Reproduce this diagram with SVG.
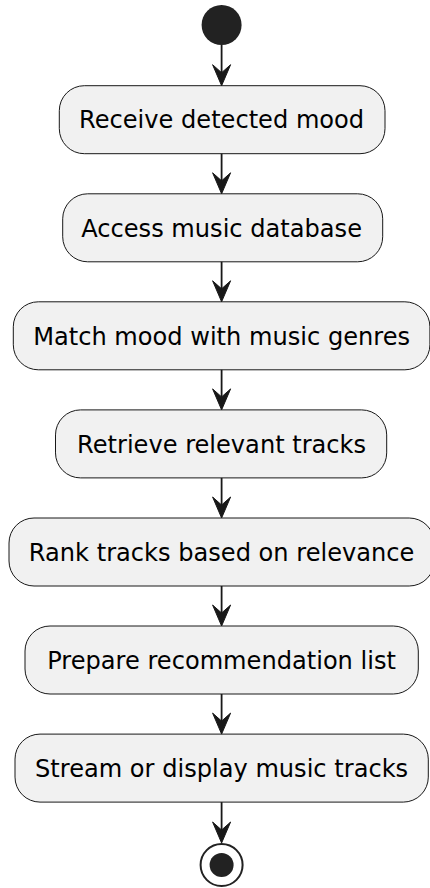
<svg xmlns="http://www.w3.org/2000/svg" width="430" height="888" viewBox="0 0 430 888">
  <style>
    .act rect { fill: #F1F1F1; stroke: #181818; stroke-width: 1; }
    .act text { font-family: "DejaVu Sans", "Liberation Sans", sans-serif; font-size: 24.1px; fill: #000000; text-anchor: middle; }
    .flow line { stroke: #181818; stroke-width: 1.8; }
    .flow polygon { fill: #181818; stroke: #181818; stroke-width: 1; }
  </style>
  <rect width="430" height="888" fill="#FFFFFF"/>

  <!-- start node -->
  <g id="start">
    <circle cx="221.6" cy="25" r="20" fill="#222222"/>
  </g>

  <!-- activities -->
  <g id="receive-mood" class="act">
    <rect x="59.3" y="85.7" width="325.7" height="68" rx="25" ry="25"/>
    <text x="221.6" y="128.4">Receive detected mood</text>
  </g>
  <g id="access-db" class="act">
    <rect x="62.7" y="193.8" width="320" height="68" rx="25" ry="25"/>
    <text x="221.6" y="236.5">Access music database</text>
  </g>
  <g id="match-genres" class="act">
    <rect x="13.3" y="301.8" width="416.6" height="68" rx="25" ry="25"/>
    <text x="221.6" y="344.5">Match mood with music genres</text>
  </g>
  <g id="retrieve-tracks" class="act">
    <rect x="55.5" y="409.9" width="331.2" height="68" rx="25" ry="25"/>
    <text x="221.6" y="452.6">Retrieve relevant tracks</text>
  </g>
  <g id="rank-tracks" class="act">
    <rect x="9" y="518" width="425.2" height="68" rx="25" ry="25"/>
    <text x="221.6" y="560.7">Rank tracks based on relevance</text>
  </g>
  <g id="prepare-list" class="act">
    <rect x="25" y="626" width="393.3" height="68" rx="25" ry="25"/>
    <text x="221.6" y="668.7">Prepare recommendation list</text>
  </g>
  <g id="stream-tracks" class="act">
    <rect x="15" y="734.1" width="413.3" height="68" rx="25" ry="25"/>
    <text x="221.6" y="776.8">Stream or display music tracks</text>
  </g>

  <!-- end node -->
  <g id="end">
    <circle cx="221.6" cy="865" r="21" fill="none" stroke="#222222" stroke-width="2"/>
    <circle cx="221.6" cy="865" r="12" fill="#222222"/>
  </g>

  <!-- control flow -->
  <g id="connectors" class="flow">
    <line x1="221.6" y1="45" x2="221.6" y2="80"/>
    <polygon points="212.6,64.7 221.6,85.7 230.6,64.7 221.6,72.7"/>
    <line x1="221.6" y1="153.7" x2="221.6" y2="188"/>
    <polygon points="212.6,172.8 221.6,193.8 230.6,172.8 221.6,180.8"/>
    <line x1="221.6" y1="261.8" x2="221.6" y2="296"/>
    <polygon points="212.6,280.8 221.6,301.8 230.6,280.8 221.6,288.8"/>
    <line x1="221.6" y1="369.8" x2="221.6" y2="404"/>
    <polygon points="212.6,388.9 221.6,409.9 230.6,388.9 221.6,396.9"/>
    <line x1="221.6" y1="477.9" x2="221.6" y2="512"/>
    <polygon points="212.6,497 221.6,518 230.6,497 221.6,505"/>
    <line x1="221.6" y1="586" x2="221.6" y2="620"/>
    <polygon points="212.6,605 221.6,626 230.6,605 221.6,613"/>
    <line x1="221.6" y1="694" x2="221.6" y2="728"/>
    <polygon points="212.6,713.1 221.6,734.1 230.6,713.1 221.6,721.1"/>
    <line x1="221.6" y1="802.1" x2="221.6" y2="838"/>
    <polygon points="212.6,822 221.6,843 230.6,822 221.6,830"/>
  </g>
</svg>
